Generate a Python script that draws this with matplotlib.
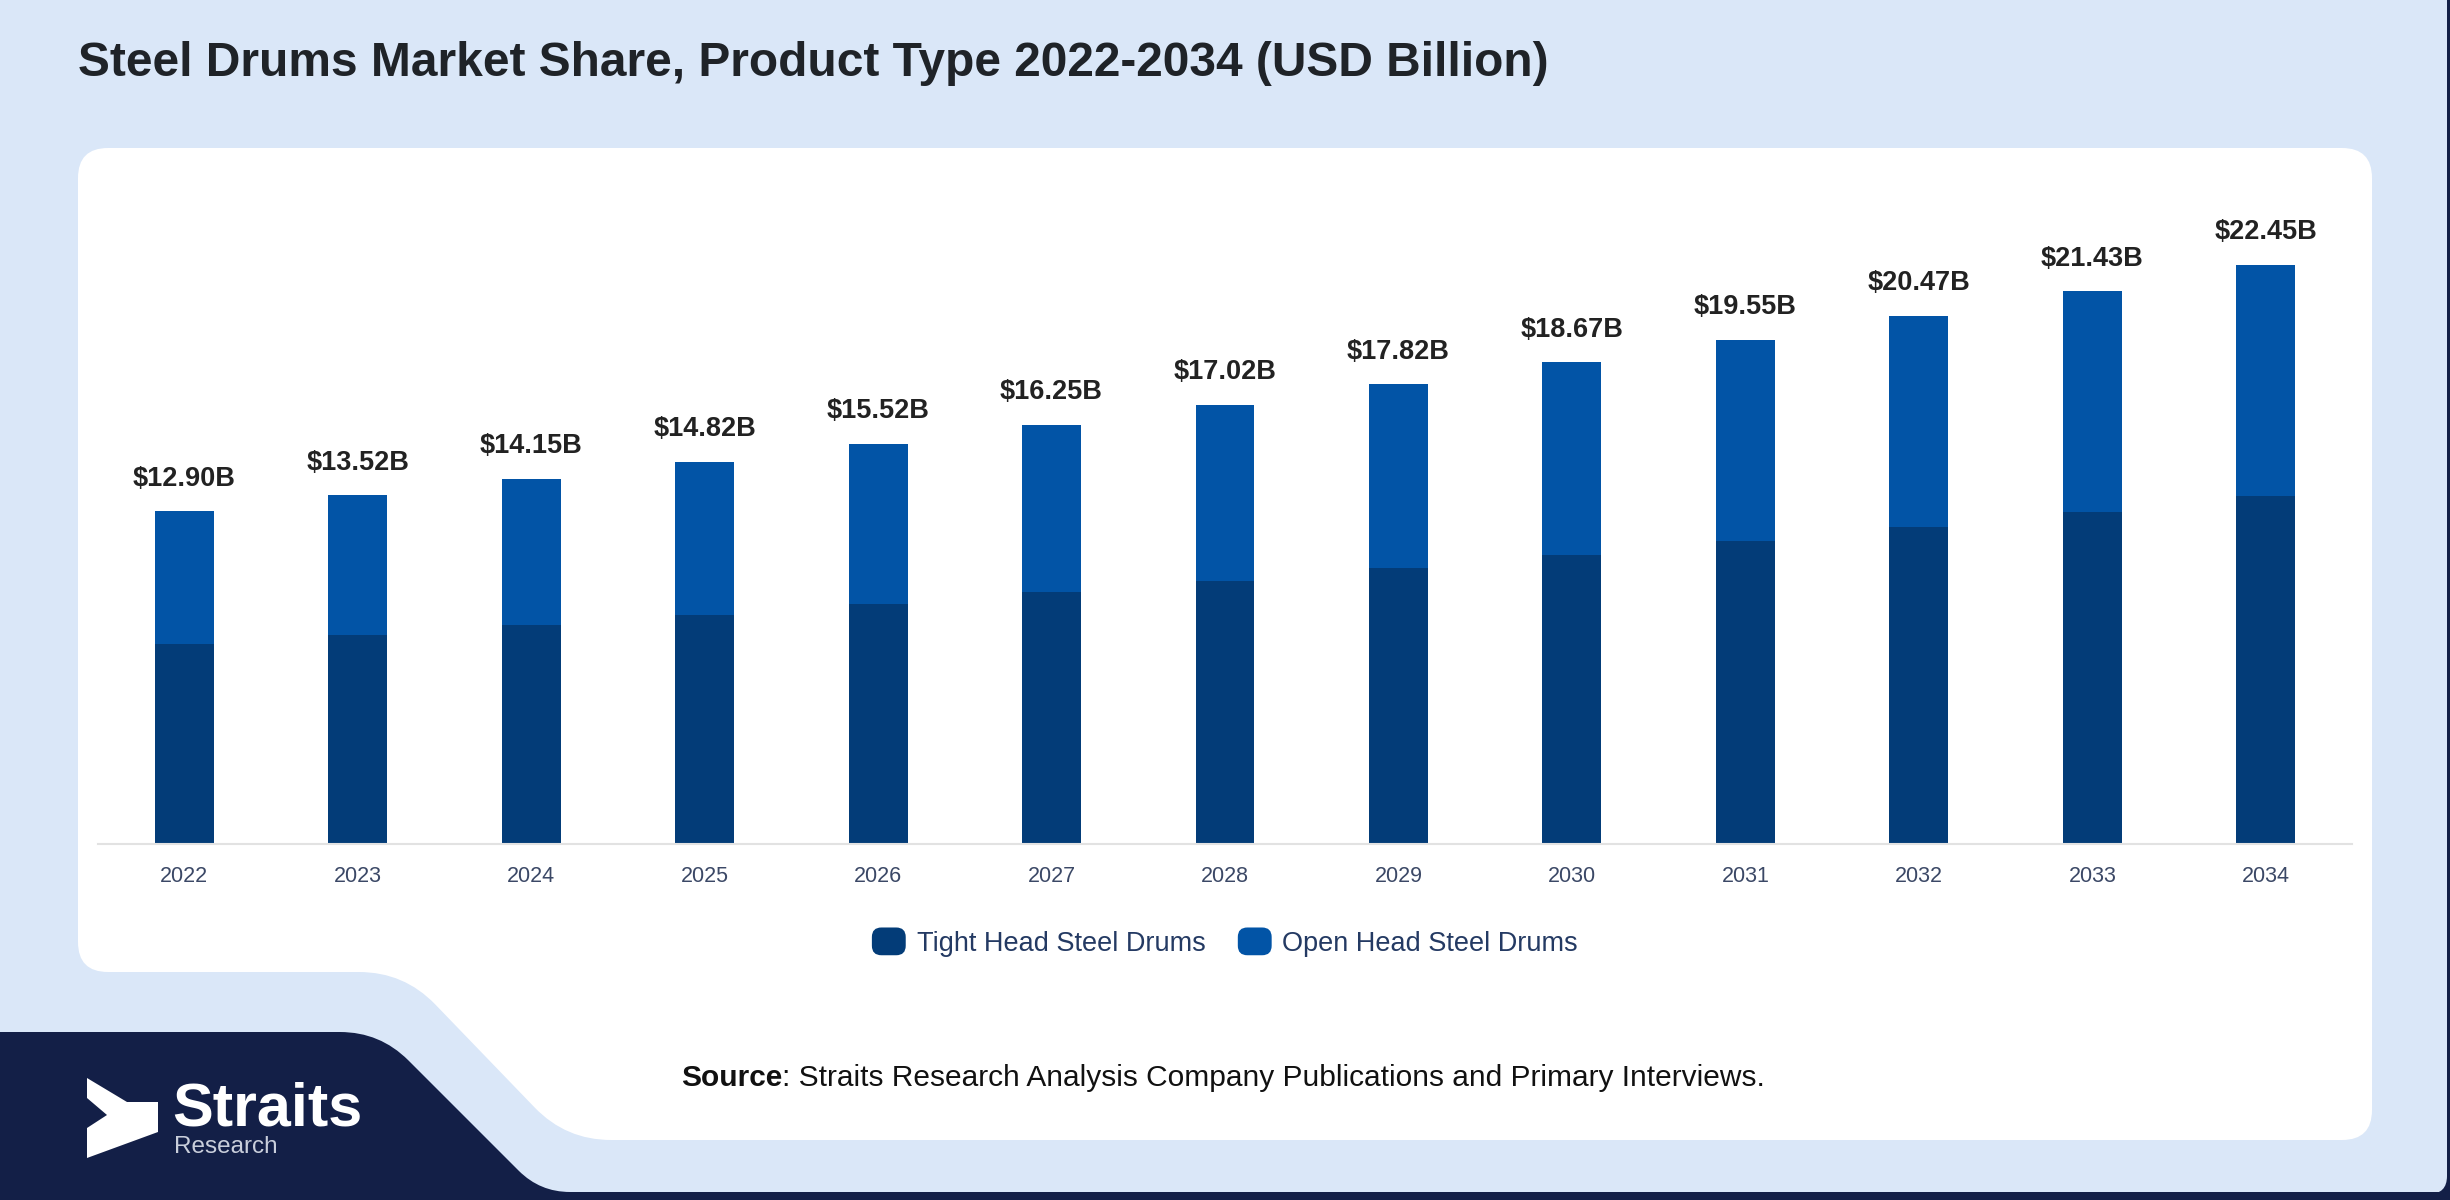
import numpy as np
import matplotlib
matplotlib.use('Agg')
import matplotlib.pyplot as plt
from matplotlib.path import Path
from matplotlib.patches import PathPatch, Polygon, Patch, FancyBboxPatch
from matplotlib.legend_handler import HandlerPatch

plt.rcParams['font.family'] = ['Liberation Sans', 'DejaVu Sans']

# data
years = ['2022', '2023', '2024', '2025', '2026', '2027', '2028',
         '2029', '2030', '2031', '2032', '2033', '2034']
tight_head = [7.74, 8.11, 8.49, 8.89, 9.31, 9.75, 10.21, 10.69, 11.20, 11.73, 12.28, 12.86, 13.47]
open_head = [5.16, 5.41, 5.66, 5.93, 6.21, 6.50, 6.81, 7.13, 7.47, 7.82, 8.19, 8.57, 8.98]
totals = [12.90, 13.52, 14.15, 14.82, 15.52, 16.25, 17.02, 17.82, 18.67, 19.55, 20.47, 21.43, 22.45]

TIGHT_C = '#033c78'
OPEN_C = '#0254a6'
LIGHT_BG = '#dae7f8'
NAVY = '#131f47'

W, H = 2450, 1200
fig = plt.figure(figsize=(W / 100, H / 100), dpi=100)
fig.patch.set_facecolor(NAVY)


def rounded_path(pts, radii):
    verts, codes = [], []
    n = len(pts)
    for i in range(n):
        p0 = np.array(pts[i - 1], float)
        p1 = np.array(pts[i], float)
        p2 = np.array(pts[(i + 1) % n], float)
        r = radii[i]
        d1 = (p0 - p1) / np.linalg.norm(p0 - p1)
        d2 = (p2 - p1) / np.linalg.norm(p2 - p1)
        a = p1 + d1 * r
        b = p1 + d2 * r
        verts.append(a)
        codes.append(Path.MOVETO if i == 0 else Path.LINETO)
        verts += [p1, b]
        codes += [Path.CURVE3, Path.CURVE3]
    verts.append(verts[0])
    codes.append(Path.CLOSEPOLY)
    return Path(verts, codes)


# background shapes in pixel coordinates
bg = fig.add_axes([0, 0, 1, 1], zorder=0)
bg.set_xlim(0, W)
bg.set_ylim(H, 0)
bg.axis('off')

bg.add_patch(PathPatch(rounded_path([(-20, -20), (2447, -20), (2447, 1194), (-20, 1194)],
                                    [1, 1, 18, 1]), facecolor=LIGHT_BG, edgecolor='none'))
bg.add_patch(PathPatch(rounded_path([(78, 148), (2372, 148), (2372, 1140), (566, 1140),
                                     (404, 972), (78, 972)],
                                    [30, 30, 30, 45, 45, 30]),
                       facecolor='white', edgecolor='none'))
bg.add_patch(PathPatch(rounded_path([(-20, 1032), (380, 1032), (540, 1192), (2470, 1192),
                                     (2470, 1220), (-20, 1220)],
                                    [1, 40, 30, 1, 1, 1]),
                       facecolor=NAVY, edgecolor='none'))

# logo
bg.add_patch(Polygon([(87, 1078), (127, 1102), (158, 1102), (158, 1132), (87, 1158),
                      (87, 1128), (107, 1115), (87, 1098)], closed=True,
                     facecolor='white', edgecolor='none'))
bg.text(172, 1126, 'Straits', color='white', fontsize=44, fontweight='bold',
        va='baseline', ha='left')
bg.text(174, 1153, 'Research', color='#c9cedb', fontsize=17.5, va='baseline', ha='left')

# title
bg.text(78, 64, 'Steel Drums Market Share, Product Type 2022-2034 (USD Billion)',
        fontsize=34.5, fontweight='bold', color='#1f2328', va='center', ha='left')

# source line
t1 = bg.text(681, 1078, 'Source', fontsize=21.5, fontweight='bold', color='#111111',
             va='center', ha='left')
bg.annotate(': Straits Research Analysis Company Publications and Primary Interviews.',
            xy=(1, 0), xycoords=t1, va='bottom', ha='left', fontsize=21.5, color='#111111')

# chart
ax = fig.add_axes([98 / W, 1 - 844 / H, 2254 / W, 645 / H], zorder=2)
ax.set_facecolor('none')
x = np.arange(len(years))
ax.bar(x, tight_head, width=0.34, color=TIGHT_C, label='Tight Head Steel Drums')
top = ax.bar(x, open_head, width=0.34, bottom=tight_head, color=OPEN_C,
             label='Open Head Steel Drums')
ax.bar_label(top, labels=[f'${v:.2f}B' for v in totals], padding=14,
             fontsize=19.5, fontweight='bold', color='#222222')

ax.set_xlim(-0.496, len(years) - 0.504)
ax.set_ylim(0, 25)
ax.set_xticks(x)
ax.set_xticklabels(years)
ax.set_yticks([])
for s in ['top', 'right', 'left']:
    ax.spines[s].set_visible(False)
ax.spines['bottom'].set_color('#e2e2e2')
ax.spines['bottom'].set_linewidth(1.5)
ax.tick_params(axis='x', length=0, pad=16, labelsize=15.5, labelcolor='#3b4866')


class RoundHandler(HandlerPatch):
    def create_artists(self, legend, orig_handle, xdescent, ydescent, width, height,
                       fontsize, trans):
        p = FancyBboxPatch((-xdescent, -ydescent), width, height,
                           boxstyle=f'round,pad=0,rounding_size={width * 0.28}',
                           facecolor=orig_handle.get_facecolor(), edgecolor='none',
                           transform=trans)
        return [p]


handles = [Patch(facecolor=TIGHT_C), Patch(facecolor=OPEN_C)]
leg = fig.legend(handles, ['Tight Head Steel Drums', 'Open Head Steel Drums'],
                 loc='center', bbox_to_anchor=(0.5, 1 - 942 / H), ncol=2, frameon=False,
                 fontsize=19.5, handlelength=1.25, handleheight=1.2, handletextpad=0.4,
                 columnspacing=1.2, labelcolor='#243a63',
                 handler_map={Patch: RoundHandler()})

fig.savefig('out.png', dpi=100, facecolor=fig.get_facecolor())
